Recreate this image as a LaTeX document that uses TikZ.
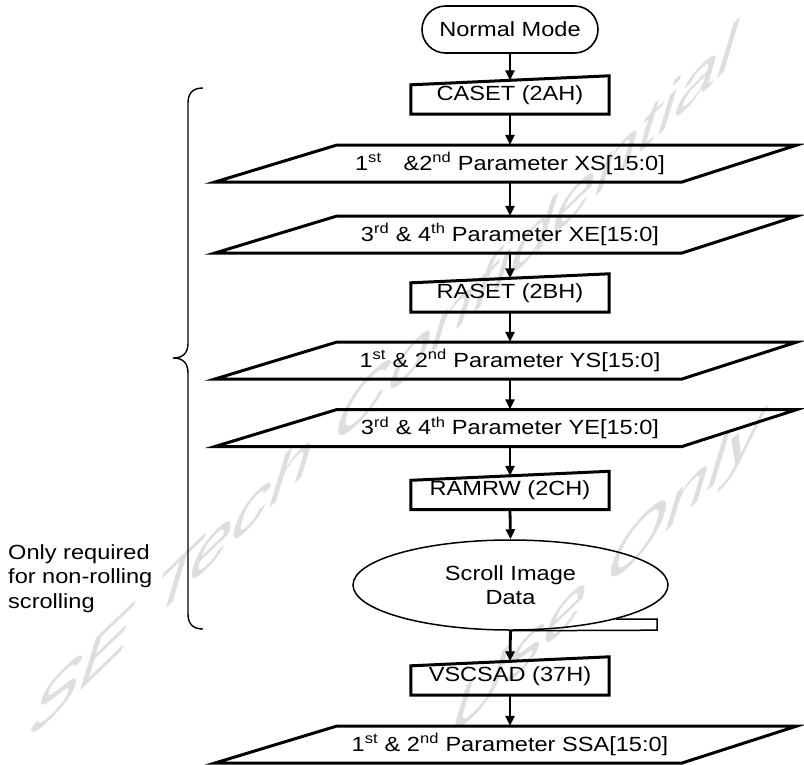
\documentclass[tikz,border=0pt]{standalone}
\usepackage{fontspec}
\setmainfont{Liberation Sans}[FakeStretch=1.15]
\newfontfamily\wmfont{Liberation Sans}
\usetikzlibrary{arrows.meta,calc,shapes.misc,shapes.geometric}

\tikzset{
  lbl/.style={font=\fontsize{20.5}{24.5}\selectfont, inner sep=0pt},
  inbox/.style={lbl, minimum width=198pt, minimum height=38pt},
  parabox/.style={lbl, minimum width=580pt, minimum height=37pt},
  outline/.style={draw=black, line width=3pt, line join=miter},
  thin outline/.style={draw=black, line width=1.6pt},
  flow/.style={draw=black, line width=2.8pt, -{Triangle[length=10pt,width=9pt]}},
  wm/.style={cm={1,0.96,0.3,1,(0,0)}, transform shape, anchor=base west,
    inner sep=0pt, text=black!13, font=\wmfont\fontsize{#1}{#1}\selectfont}
}

% manual-input box: name, centre y, text
\newcommand\InBox[3]{%
  \node[inbox] (#1) at (510,#2) {#3};
  \draw[outline] (#1.south west) -- (#1.south east) -- (#1.north east)
    -- ($(#1.north west)+(0,9)$) -- cycle;}
% data parallelogram: name, centre y, text
\newcommand\ParaBox[3]{%
  \node[parabox] (#1) at (510,#2) {#3};
  \draw[outline] ($(#1.center)+(-295,18.5)$) -- ($(#1.center)+(172,18.5)$)
    -- ($(#1.center)+(287,-18.5)$) -- ($(#1.center)+(-173,-18.5)$) -- cycle;}

\begin{document}
\begin{tikzpicture}[x=1pt,y=-1pt]
\useasboundingbox (0,0) rectangle (804,764);
\fill[white] (0,0) rectangle (804,764);

% watermark
\begin{scope}[shift={(24,745)}]
  \node[wm=76] (wmA) at (0,0) {SE Tech Confidential};
\end{scope}
\begin{scope}[shift={(445,744)}]
  \node[wm=76] (wmB) at (0,0) {Use Only};
\end{scope}

% start terminator
\node[lbl, rounded rectangle, thin outline, minimum width=176pt,
      minimum height=47pt] (nm) at (510,29.5) {Normal Mode};

\InBox{caset}{95}{CASET (2AH)}
\ParaBox{xs}{163.5}{1\textsuperscript{st}\hspace{22pt}\&2\textsuperscript{nd} Parameter XS[15:0]}
\ParaBox{xe}{234.5}{3\textsuperscript{rd} \& 4\textsuperscript{th} Parameter XE[15:0]}
\InBox{raset}{293}{RASET (2BH)}
\ParaBox{ys}{360.5}{1\textsuperscript{st} \& 2\textsuperscript{nd} Parameter YS[15:0]}
\ParaBox{ye}{428}{3\textsuperscript{rd} \& 4\textsuperscript{th} Parameter YE[15:0]}
\InBox{ramrw}{490.5}{RAMRW (2CH)}

% sequential data store
\node[lbl, ellipse, draw=black, line width=1.5pt, minimum width=315pt,
      minimum height=90pt, align=center] (img) at (510.5,585) {Scroll Image\\Data};
\draw[line width=1.5pt] (img.-18.3) -- ++(41.5,0) coordinate (tail)
  -- ++(0,11) -- (img.south);

\InBox{vscsad}{676}{VSCSAD (37H)}
\ParaBox{ssa}{744.5}{1\textsuperscript{st} \& 2\textsuperscript{nd} Parameter SSA[15:0]}

% connectors
\draw[flow] (nm.south) -- ($(caset.north)+(0,4.5)$);
\draw[flow] (caset.south) -- (xs.north);
\draw[flow] (xs.south) -- (xe.north);
\draw[flow] (xe.south) -- ($(raset.north)+(0,4.5)$);
\draw[flow] (raset.south) -- (ys.north);
\draw[flow] (ys.south) -- (ye.north);
\draw[flow] (ye.south) -- ($(ramrw.north)+(0,4.5)$);
\draw[flow] (ramrw.south) -- (img.north);
\draw[flow] (img.south) -- ($(vscsad.north)+(0,4.5)$);
\draw[flow] (vscsad.south) -- (ssa.north);

% brace and its note
\draw[line width=1.4pt] (203,88) .. controls (193,88) and (188,93) .. (188,103)
  -- (188,343) .. controls (188,353) and (183,358) .. (173,358)
  .. controls (183,358) and (188,363) .. (188,373)
  -- (188,614) .. controls (188,624) and (193,629) .. (203,629);
\node[lbl, align=left, anchor=west] (note) at (8,578.5)
  {Only required\\for non-rolling\\scrolling};
\end{tikzpicture}
\end{document}
